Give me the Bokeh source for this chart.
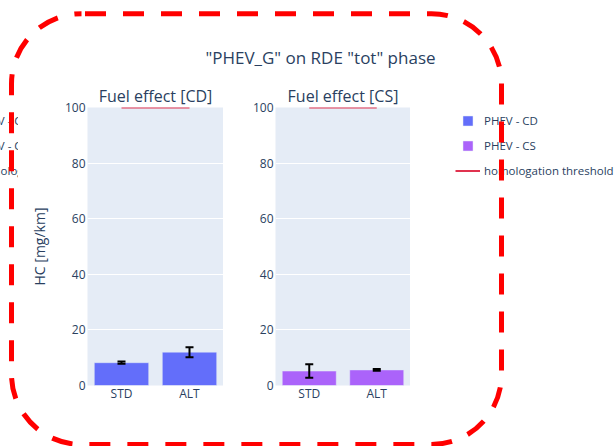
import html
from bokeh.plotting import figure
from bokeh.models import (ColumnDataSource, Whisker, TeeHead, Legend, LegendItem,
                          Label, Div, FactorRange, Range1d)
from bokeh.layouts import row, column
from bokeh.embed import file_html
from bokeh.resources import INLINE

# ---------------- data ----------------
categories = ["STD", "ALT"]
cd_values = [8.2, 12.0]
cd_errors = [0.4, 1.8]
cs_values = [5.2, 5.6]
cs_errors = [2.4, 0.3]
threshold_values = [100, 100]
y_ticks = [0, 20, 40, 60, 80, 100]
series_names = ["PHEV - CD", "PHEV - CS"]
threshold_name = "homologation threshold"
panel_titles = ["Fuel effect [CD]", "Fuel effect [CS]"]
main_title = '"PHEV_G" on RDE "tot" phase'
y_label = "HC [mg/km]"

# ---------------- style ----------------
FONT = "Open Sans"
TXT = "#2a3f5f"
BG = "#e5ecf6"
COLORS = ["#636efa", "#ab63fa"]
THR = "#e0324f"
H = 378
FRAME_BOTTOM = 385   # page y of the plot frames' bottom edge
LEG_FONT = "11.5px"


def panel(title, values, errors, color, width, border_left, ylab=None):
    p = figure(width=width, height=H,
               x_range=FactorRange(*categories, range_padding=0),
               y_range=Range1d(0, 100),
               output_backend="svg", toolbar_location=None,
               min_border_left=border_left, min_border_right=0,
               min_border_top=39, min_border_bottom=61, title=title)
    p.background_fill_color = BG
    p.border_fill_color = "white"
    p.outline_line_color = None
    p.title.text_font = FONT
    p.title.text_font_size = "16px"
    p.title.text_font_style = "normal"
    p.title.text_color = TXT
    p.title.align = "center"
    p.title.standoff = 1

    src = ColumnDataSource(dict(
        x=categories, top=values,
        upper=[v + e for v, e in zip(values, errors)],
        lower=[v - e for v, e in zip(values, errors)]))
    p.vbar(x="x", top="top", width=0.8, source=src, fill_color=color,
           line_color=BG, line_width=0.5)
    w = Whisker(base="x", upper="upper", lower="lower", source=src,
                line_color="black", line_width=2, level="overlay",
                upper_head=TeeHead(size=8, line_color="black", line_width=2),
                lower_head=TeeHead(size=8, line_color="black", line_width=2))
    p.add_layout(w)
    p.line(x=categories, y=threshold_values, line_color=THR, line_width=2)

    p.xgrid.visible = False
    p.ygrid.grid_line_color = "white"
    p.ygrid.grid_line_width = 1
    p.yaxis.ticker = y_ticks
    for ax in (p.xaxis[0], p.yaxis[0]):
        ax.axis_line_color = None
        ax.major_tick_line_color = None
        ax.minor_tick_line_color = None
        ax.major_tick_out = 0
        ax.major_tick_in = 0
        ax.minor_tick_out = 0
        ax.minor_tick_in = 0
        ax.major_label_text_font = FONT
        ax.major_label_text_font_size = "12px"
        ax.major_label_text_color = TXT
    p.yaxis.major_label_standoff = 2
    p.xaxis.major_label_standoff = -1
    if ylab:
        p.yaxis.axis_label = ylab
        p.yaxis.axis_label_text_font = FONT
        p.yaxis.axis_label_text_font_size = "14px"
        p.yaxis.axis_label_text_font_style = "normal"
        p.yaxis.axis_label_text_color = TXT
        p.yaxis.axis_label_standoff = 13
    return p


def blank(width, x_range=None, y_range=None):
    p = figure(width=width, height=H, output_backend="svg", toolbar_location=None,
               min_border=0, x_axis_location=None, y_axis_location=None,
               x_range=x_range or Range1d(0, 1), y_range=y_range or Range1d(0, 1))
    p.outline_line_color = None
    p.grid.visible = False
    p.background_fill_color = "white"
    p.border_fill_color = "white"
    return p


# clipped ghost legend on the far left (as in the reference)
pl = blank(18)
for i, name in enumerate(series_names + [threshold_name]):
    pl.add_layout(Label(x=-24.5, y=FRAME_BOTTOM - 120 - 25 * i, x_units="screen", y_units="screen",
                        text=name, text_font=FONT, text_font_size=LEG_FONT,
                        text_color=TXT, text_baseline="middle", text_align="left"))

pa = panel(panel_titles[0], cd_values, cd_errors, COLORS[0], 205, 69, y_label)
pb = panel(panel_titles[1], cs_values, cs_errors, COLORS[1], 187, 52)

# legend panel (legend proxies drawn outside the visible y range)
pc = blank(205, x_range=FactorRange(*categories), y_range=Range1d(-300, -200))
r1 = pc.scatter(x=categories, y=cd_values, marker="square", fill_color=COLORS[0],
                line_color=BG, line_width=0.5)
r2 = pc.scatter(x=categories, y=cs_values, marker="square", fill_color=COLORS[1],
                line_color=BG, line_width=0.5)
r3 = pc.line(x=categories, y=threshold_values, line_color=THR, line_width=2)
legend = Legend(items=[LegendItem(label=series_names[0], renderers=[r1]),
                       LegendItem(label=series_names[1], renderers=[r2]),
                       LegendItem(label=threshold_name, renderers=[r3])],
                location=(45, FRAME_BOTTOM - 182.5), glyph_width=25, glyph_height=25,
                spacing=0, padding=0, margin=0, label_standoff=4, label_height=25,
                label_text_font=FONT, label_text_font_size=LEG_FONT, label_text_color=TXT,
                background_fill_alpha=0, border_line_alpha=0)
pc.add_layout(legend)

title_div = Div(
    text=('<div style="box-sizing:border-box;width:615px;padding-left:26px;padding-top:48px;'
          "text-align:center;font-family:'Open Sans';font-size:17px;line-height:20px;"
          'color:#2a3f5f;white-space:nowrap">' + html.escape(main_title, quote=False) + '</div>'),
    width=615, height=68, styles={"margin": "0", "padding": "0"})

overlay = Div(
    text=('<svg width="615" height="446" style="position:fixed;left:0;top:0;overflow:visible;'
          'pointer-events:none;z-index:10">'
          '<rect x="11.5" y="13.7" width="490" height="430.8" rx="70" ry="70" fill="none" '
          'stroke="#ff0000" stroke-width="5" stroke-dasharray="21 17" stroke-dashoffset="34.5"/>'
          '</svg>'),
    width=615, height=446,
    styles={"position": "absolute", "left": "0px", "top": "0px", "z-index": "10",
            "pointer-events": "none"})

layout = column(title_div, row(pl, pa, pb, pc), overlay, styles={"position": "relative"})

open("out.html", "w").write(file_html(layout, INLINE, title="plot"))
